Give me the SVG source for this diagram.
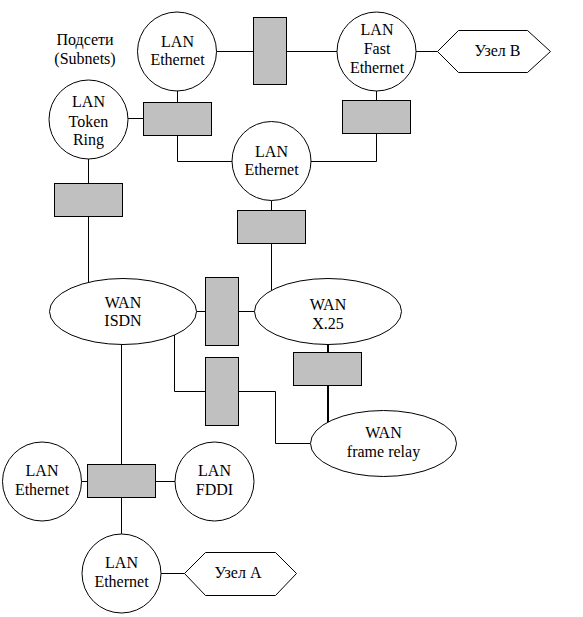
<svg xmlns="http://www.w3.org/2000/svg" width="583" height="617" viewBox="0 0 583 617">
<style>
.n{fill:#fff;stroke:#000;stroke-width:1}
.d{fill:#c0c0c0;stroke:#000;stroke-width:1}
.c{fill:none;stroke:#000;stroke-width:1}
.t{stroke:#000;stroke-width:2;fill:none}
text{font-family:'Liberation Serif','DejaVu Serif',serif;font-size:16px;fill:#000;text-anchor:middle}
</style>
<rect width="583" height="617" fill="#fff"/>
<g id="connectors">
<line class="c" x1="216.5" y1="51.5" x2="253.5" y2="51.5"/>
<line class="c" x1="286.5" y1="51.5" x2="337" y2="51.5"/>
<line class="c" x1="416" y1="51.5" x2="437.5" y2="51.5"/>
<line class="c" x1="177.5" y1="91" x2="177.5" y2="102.5"/>
<line class="c" x1="128" y1="118.5" x2="143.5" y2="118.5"/>
<polyline class="c" points="177.5,135.5 177.5,161.5 232,161.5"/>
<line class="c" x1="376.5" y1="91" x2="376.5" y2="100.5"/>
<polyline class="c" points="376.5,133.5 376.5,161.5 311,161.5"/>
<line class="c" x1="88.5" y1="159" x2="88.5" y2="183.5"/>
<line class="c" x1="88.5" y1="216.5" x2="88.5" y2="282.5"/>
<line class="c" x1="271.5" y1="200.5" x2="271.5" y2="210.5"/>
<line class="c" x1="271.5" y1="243.5" x2="271.5" y2="290"/>
<line class="c" x1="196.5" y1="311.5" x2="205.5" y2="311.5"/>
<line class="c" x1="238.5" y1="311.5" x2="254.5" y2="311.5"/>
<line class="t" x1="328" y1="344.5" x2="328" y2="352.5"/>
<line class="t" x1="328" y1="385.5" x2="328" y2="422"/>
<polyline class="c" points="174.5,335 174.5,391.5 205.5,391.5"/>
<polyline class="c" points="238.5,391.5 275.5,391.5 275.5,443.5 310,443.5"/>
<line class="c" x1="121.5" y1="344.5" x2="121.5" y2="464.5"/>
<line class="c" x1="81.5" y1="481.5" x2="87.5" y2="481.5"/>
<line class="c" x1="155.5" y1="481.5" x2="175" y2="481.5"/>
<line class="c" x1="121.5" y1="497.5" x2="121.5" y2="534"/>
<line class="c" x1="161" y1="573.5" x2="184.5" y2="573.5"/>
</g>
<g id="label-subnets"><text x="85" y="45">Подсети</text><text x="85" y="64">(Subnets)</text></g>
<g id="lan-eth-top"><circle class="n" cx="177" cy="51.5" r="39.5"/><text x="177.5" y="47">LAN</text><text x="177.5" y="65">Ethernet</text></g>
<g id="lan-fast-eth"><circle class="n" cx="376.5" cy="51.5" r="39.5"/><text x="377" y="35">LAN</text><text x="377" y="54">Fast</text><text x="377" y="73">Ethernet</text></g>
<g id="node-b"><polygon class="n" points="437.5,51.5 458.5,30.5 527.5,30.5 550.5,51.5 527.5,72.5 458.5,72.5"/><text x="497.5" y="56">Узел B</text></g>
<g id="lan-token-ring"><circle class="n" cx="88.5" cy="119.5" r="39.5"/><text x="88.5" y="107">LAN</text><text x="88.5" y="126.5">Token</text><text x="88.5" y="145">Ring</text></g>
<g id="lan-eth-center"><circle class="n" cx="271.5" cy="161" r="39.5"/><text x="271.5" y="156.5">LAN</text><text x="271.5" y="175">Ethernet</text></g>
<g id="wan-isdn"><ellipse class="n" cx="123" cy="311.5" rx="73.5" ry="33"/><text x="123" y="308">WAN</text><text x="123" y="326">ISDN</text></g>
<g id="wan-x25"><ellipse class="n" cx="328" cy="311.5" rx="73.5" ry="33"/><text x="328" y="310">WAN</text><text x="328" y="329">X.25</text></g>
<g id="wan-frame-relay"><ellipse class="n" cx="383.5" cy="443.5" rx="73" ry="33"/><text x="383.5" y="438">WAN</text><text x="383.5" y="456.5">frame relay</text></g>
<g id="lan-eth-left"><circle class="n" cx="42" cy="481.5" r="39.5"/><text x="42" y="476">LAN</text><text x="42" y="495">Ethernet</text></g>
<g id="lan-fddi"><circle class="n" cx="214.5" cy="481.5" r="39.5"/><text x="214.5" y="476">LAN</text><text x="214.5" y="495">FDDI</text></g>
<g id="lan-eth-bottom"><circle class="n" cx="121.5" cy="573.5" r="39.5"/><text x="121.5" y="568">LAN</text><text x="121.5" y="587">Ethernet</text></g>
<g id="node-a"><polygon class="n" points="184.5,573.5 205.5,552.5 275.5,552.5 296.5,573.5 275.5,595.5 205.5,595.5"/><text x="238" y="578">Узел A</text></g>
<g id="dev-1"><rect class="d" x="253.5" y="17.5" width="33" height="67"/></g>
<g id="dev-2"><rect class="d" x="143.5" y="102.5" width="68" height="33"/></g>
<g id="dev-3"><rect class="d" x="342.5" y="100.5" width="68" height="33"/></g>
<g id="dev-4"><rect class="d" x="54.5" y="183.5" width="68" height="33"/></g>
<g id="dev-5"><rect class="d" x="237.5" y="210.5" width="68" height="33"/></g>
<g id="dev-6"><rect class="d" x="205.5" y="277.5" width="33" height="68"/></g>
<g id="dev-7"><rect class="d" x="205.5" y="357.5" width="33" height="68"/></g>
<g id="dev-8"><rect class="d" x="293.5" y="352.5" width="68" height="33"/></g>
<g id="dev-9"><rect class="d" x="87.5" y="464.5" width="68" height="33"/></g>
</svg>
